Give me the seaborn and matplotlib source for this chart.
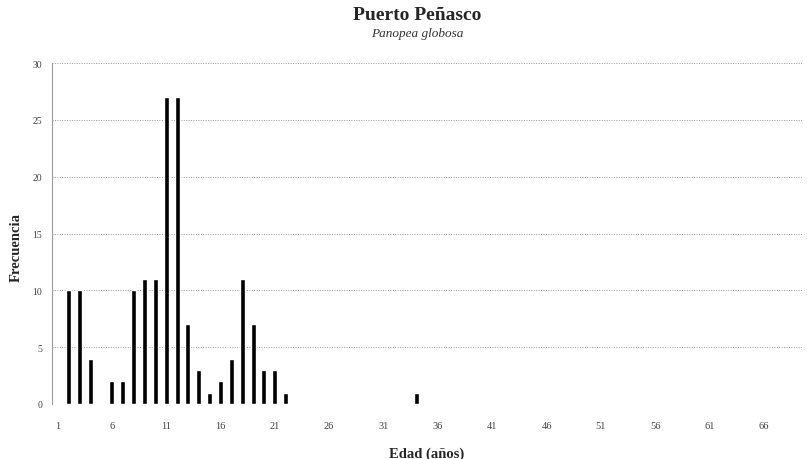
import matplotlib
matplotlib.use("Agg")
import matplotlib.pyplot as plt
import seaborn as sns
import pandas as pd

# Age classes (years) and observed frequency for each class
edades = list(range(1, 70))
frecuencias = [0, 10, 10, 4, 0, 2, 2, 10, 11, 11,
               27, 27, 7, 3, 1, 2, 4, 11, 7, 3,
               3, 1, 0, 0, 0, 0, 0, 0, 0, 0,
               0, 0, 0, 1, 0, 0, 0, 0, 0, 0,
               0, 0, 0, 0, 0, 0, 0, 0, 0, 0,
               0, 0, 0, 0, 0, 0, 0, 0, 0, 0,
               0, 0, 0, 0, 0, 0, 0, 0, 0]
etiquetas_x = [str(e) for e in range(1, 70, 5)]
valores_y = [0, 5, 10, 15, 20, 25, 30]

titulo = "Puerto Peñasco"
subtitulo = "Panopea globosa"

df = pd.DataFrame({"Edad": edades, "Frecuencia": frecuencias})

sns.set_theme(style="white")
plt.rcParams["font.family"] = ["Liberation Serif", "DejaVu Serif"]

fig = plt.figure(figsize=(8.07, 4.60), dpi=100)
ax = fig.add_axes([52 / 807, 1 - 405 / 460, 750 / 807, (405 - 64) / 460])

sns.barplot(data=df, x="Edad", y="Frecuencia", color="black",
            width=0.46, saturation=1, ax=ax, order=edades)

ax.set_ylim(0, 30)
ax.set_yticks(valores_y)
ax.set_yticklabels([str(v) for v in valores_y], fontsize=7, color="#444444")
ax.set_xticks([edades.index(int(t)) for t in etiquetas_x])
ax.set_xticklabels(etiquetas_x, fontsize=7.5, color="#444444")
ax.tick_params(axis="both", length=0)
ax.tick_params(axis="y", pad=7)
ax.tick_params(axis="x", pad=12)

# dotted horizontal grid lines
ax.yaxis.grid(True, linestyle=(0, (1, 1.5)), color="#9a9a9a", linewidth=0.7)
ax.set_axisbelow(True)
for s in ["top", "right", "bottom"]:
    ax.spines[s].set_visible(False)
ax.spines["left"].set_linestyle((0, (1, 1)))
ax.spines["left"].set_color("#9a9a9a")
ax.spines["left"].set_linewidth(0.8)

ax.set_xlabel("Edad (años)", fontsize=10.5, fontweight="bold", labelpad=12)
ax.set_ylabel("Frecuencia", fontsize=10.5, fontweight="bold")
ax.yaxis.set_label_coords(-0.039, 0.463)

fig.text(417 / 807, 1 - 16 / 460, titulo, ha="center", va="center",
         fontsize=14, fontweight="bold")
fig.text(417 / 807, 1 - 34 / 460, subtitulo, ha="center", va="center",
         fontsize=9.5, fontstyle="italic", color="#333333")

fig.savefig("out.png", dpi=100, facecolor="white")
